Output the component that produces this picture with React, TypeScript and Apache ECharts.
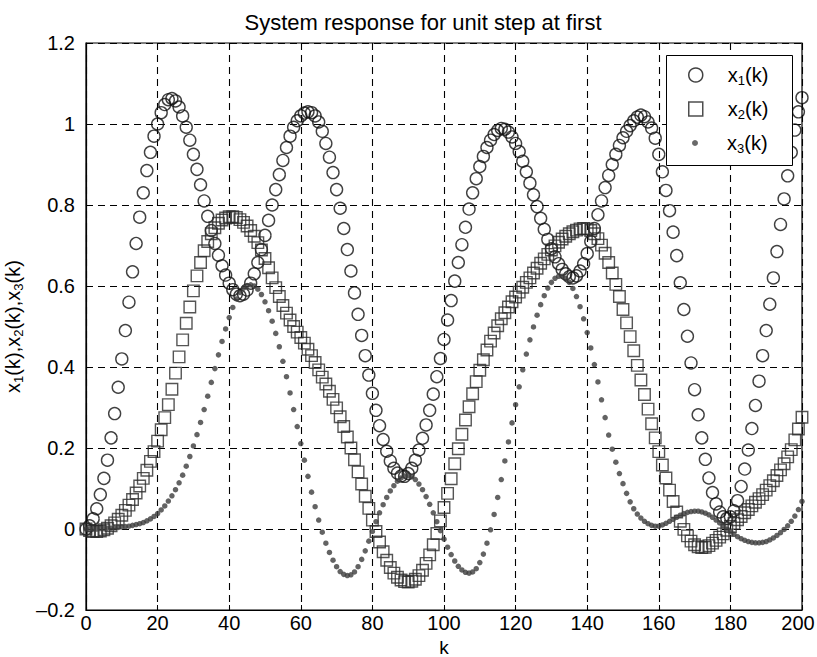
import React, { useEffect, useRef } from "react";
import * as echarts from "echarts";

// Sampled steps k = 0..200 (one marker per step)
const x1: number[] = [
  0.000, 0.008, 0.025, 0.050, 0.085, 0.125, 0.170, 0.225, 0.285, 0.350,
  0.420, 0.490, 0.560, 0.635, 0.705, 0.770, 0.830, 0.885, 0.930, 0.970,
  1.000, 1.028, 1.048, 1.060, 1.063, 1.057, 1.042, 1.020, 0.992, 0.960,
  0.925, 0.888, 0.850, 0.810, 0.772, 0.737, 0.705, 0.676, 0.650, 0.627,
  0.607, 0.591, 0.580, 0.576, 0.580, 0.590, 0.607, 0.630, 0.658, 0.690,
  0.725, 0.762, 0.800, 0.838, 0.875, 0.910, 0.942, 0.970, 0.992, 1.008,
  1.020, 1.027, 1.030, 1.028, 1.020, 1.005, 0.982, 0.952, 0.918, 0.880,
  0.838, 0.792, 0.742, 0.690, 0.637, 0.583, 0.530, 0.478, 0.428, 0.380,
  0.335, 0.293, 0.255, 0.221, 0.192, 0.168, 0.150, 0.138, 0.131, 0.130,
  0.137, 0.150, 0.170, 0.195, 0.224, 0.257, 0.293, 0.333, 0.376, 0.421,
  0.468, 0.516, 0.564, 0.612, 0.658, 0.702, 0.745, 0.790, 0.830, 0.865,
  0.895, 0.920, 0.942, 0.960, 0.974, 0.984, 0.989, 0.987, 0.980, 0.968,
  0.952, 0.932, 0.908, 0.882, 0.854, 0.825, 0.796, 0.767, 0.740, 0.715,
  0.692, 0.672, 0.655, 0.641, 0.630, 0.623, 0.620, 0.625, 0.637, 0.655,
  0.680, 0.710, 0.742, 0.776, 0.810, 0.843, 0.873, 0.900, 0.925, 0.947,
  0.966, 0.982, 0.996, 1.008, 1.017, 1.022, 1.018, 1.005, 0.990, 0.965,
  0.925, 0.882, 0.836, 0.786, 0.733, 0.675, 0.608, 0.542, 0.476, 0.410,
  0.344, 0.282, 0.225, 0.172, 0.126, 0.090, 0.062, 0.042, 0.030, 0.026,
  0.030, 0.045, 0.070, 0.105, 0.148, 0.195, 0.248, 0.305, 0.365, 0.428,
  0.490, 0.555, 0.620, 0.685, 0.752, 0.815, 0.872, 0.930, 0.985, 1.030,
  1.065,
];

const x2: number[] = [
  0.000, -0.004, -0.006, -0.006, -0.005, -0.002, 0.002, 0.008, 0.015, 0.024,
  0.034, 0.046, 0.059, 0.073, 0.089, 0.106, 0.125, 0.145, 0.167, 0.191,
  0.217, 0.245, 0.275, 0.307, 0.345, 0.385, 0.425, 0.467, 0.508, 0.548,
  0.588, 0.625, 0.658, 0.687, 0.710, 0.729, 0.744, 0.755, 0.763, 0.768,
  0.771, 0.771, 0.769, 0.764, 0.757, 0.748, 0.737, 0.723, 0.707, 0.689,
  0.668, 0.645, 0.620, 0.596, 0.574, 0.552, 0.533, 0.516, 0.500, 0.486,
  0.473, 0.459, 0.444, 0.428, 0.411, 0.393, 0.375, 0.358, 0.340, 0.320,
  0.299, 0.277, 0.253, 0.227, 0.200, 0.171, 0.141, 0.111, 0.081, 0.051,
  0.022, -0.006, -0.032, -0.056, -0.077, -0.095, -0.109, -0.119, -0.126, -0.130,
  -0.131, -0.129, -0.124, -0.115, -0.102, -0.085, -0.064, -0.039, -0.011, 0.020,
  0.053, 0.088, 0.124, 0.161, 0.198, 0.234, 0.269, 0.302, 0.334, 0.364,
  0.392, 0.418, 0.442, 0.464, 0.484, 0.502, 0.519, 0.534, 0.548, 0.561,
  0.573, 0.585, 0.597, 0.609, 0.620, 0.632, 0.644, 0.656, 0.667, 0.678,
  0.689, 0.699, 0.708, 0.716, 0.723, 0.729, 0.734, 0.738, 0.741, 0.742,
  0.741, 0.737, 0.729, 0.717, 0.701, 0.681, 0.658, 0.632, 0.604, 0.574,
  0.542, 0.509, 0.475, 0.440, 0.404, 0.368, 0.332, 0.296, 0.260, 0.225,
  0.191, 0.158, 0.126, 0.096, 0.068, 0.042, 0.019, -0.001, -0.017, -0.030,
  -0.039, -0.044, -0.046, -0.045, -0.041, -0.035, -0.028, -0.020, -0.012, -0.003,
  0.006, 0.014, 0.023, 0.031, 0.040, 0.048, 0.057, 0.066, 0.075, 0.085,
  0.096, 0.107, 0.119, 0.132, 0.146, 0.161, 0.178, 0.196, 0.220, 0.247,
  0.276,
];

const x3: number[] = [
  0.000, 0.000, 0.000, 0.000, 0.001, 0.001, 0.002, 0.002, 0.003, 0.004,
  0.005, 0.006, 0.007, 0.009, 0.011, 0.013, 0.016, 0.020, 0.025, 0.031,
  0.038, 0.047, 0.057, 0.069, 0.082, 0.097, 0.114, 0.133, 0.155, 0.179,
  0.205, 0.233, 0.263, 0.295, 0.328, 0.362, 0.396, 0.430, 0.463, 0.494,
  0.522, 0.547, 0.568, 0.584, 0.595, 0.601, 0.603, 0.600, 0.592, 0.579,
  0.561, 0.539, 0.513, 0.483, 0.450, 0.414, 0.376, 0.336, 0.295, 0.253,
  0.211, 0.170, 0.130, 0.091, 0.055, 0.022, -0.008, -0.035, -0.058, -0.077,
  -0.093, -0.105, -0.112, -0.115, -0.113, -0.106, -0.093, -0.075, -0.054, -0.030,
  -0.006, 0.018, 0.040, 0.060, 0.078, 0.094, 0.107, 0.118, 0.126, 0.131,
  0.132, 0.129, 0.122, 0.111, 0.097, 0.080, 0.061, 0.040, 0.018, -0.004,
  -0.025, -0.045, -0.063, -0.079, -0.092, -0.101, -0.107, -0.109, -0.106, -0.098,
  -0.083, -0.062, -0.035, -0.002, 0.036, 0.078, 0.122, 0.168, 0.215, 0.262,
  0.307, 0.351, 0.393, 0.432, 0.467, 0.499, 0.528, 0.554, 0.576, 0.595,
  0.609, 0.619, 0.624, 0.624, 0.619, 0.609, 0.594, 0.574, 0.549, 0.519,
  0.485, 0.447, 0.406, 0.363, 0.319, 0.275, 0.232, 0.197, 0.165, 0.137,
  0.112, 0.088, 0.067, 0.050, 0.037, 0.027, 0.019, 0.013, 0.009, 0.007,
  0.007, 0.010, 0.014, 0.019, 0.024, 0.029, 0.034, 0.038, 0.041, 0.043,
  0.044, 0.044, 0.042, 0.039, 0.035, 0.029, 0.022, 0.015, 0.008, 0.000,
  -0.007, -0.013, -0.019, -0.024, -0.028, -0.031, -0.033, -0.034, -0.034, -0.033,
  -0.031, -0.027, -0.022, -0.016, -0.009, -0.001, 0.008, 0.019, 0.032, 0.048,
  0.068,
];

const seriesNames = ["x1(k)", "x2(k)", "x3(k)"];
const subDigits = ["1", "2", "3"];
const xTicks = { min: 0, max: 200, interval: 20 };
const yTicks = { min: -0.2, max: 1.2, interval: 0.2 };
const titleText = "System response for unit step at first";
const xName = "k";

const FONT = "Liberation Sans, Arial, Helvetica, sans-serif";

export default function App() {
  const ref = useRef<HTMLDivElement>(null);

  useEffect(() => {
    if (!ref.current) return;
    const chart = echarts.init(ref.current, undefined, { renderer: "svg" });

    const toPairs = (arr: number[]) => arr.map((v, k) => [k, v]);
    const sub = (d: string) => `x{s|${d}}(k)`;
    const fmt = (name: string) => sub(subDigits[seriesNames.indexOf(name)]);

    const dash = { type: [7, 5] as number[], color: "#000", width: 1.1 };
    const richSub = {
      s: { fontFamily: FONT, fontSize: 13, lineHeight: 14, verticalAlign: "bottom", color: "#000" },
    };
    const legendText = (padLeft: number) => ({
      fontFamily: FONT,
      fontSize: 20,
      color: "#000",
      lineHeight: 24,
      padding: [0, 0, 0, padLeft],
      rich: richSub,
    });

    chart.setOption({
      animation: false,
      backgroundColor: "#ffffff",
      title: {
        text: titleText,
        left: 418,
        textAlign: "center",
        top: 6,
        textStyle: {
          fontFamily: FONT,
          fontSize: 22,
          fontWeight: "normal",
          color: "#000",
        },
      },
      grid: {
        left: 86,
        right: 15,
        top: 43,
        bottom: 47,
        show: true,
        borderColor: "#000",
        borderWidth: 1.2,
        backgroundColor: "transparent",
        containLabel: false,
        outerBoundsMode: "none",
      },
      graphic: [
        {
          type: "rect",
          left: 666,
          top: 55,
          z: 50,
          shape: { width: 126, height: 110 },
          style: { fill: "#fff", stroke: "#000", lineWidth: 1 },
        },
      ],
      legend: [
        {
          orient: "vertical",
          left: 688,
          top: 63,
          z: 60,
          padding: 0,
          itemGap: 10,
          itemWidth: 14,
          itemHeight: 14,
          data: [
            {
              name: seriesNames[0],
              icon: "circle",
              itemStyle: { color: "transparent", borderColor: "#111", borderWidth: 1.5 },
            },
            {
              name: seriesNames[1],
              icon: "rect",
              itemStyle: { color: "transparent", borderColor: "#222", borderWidth: 1.5 },
            },
          ],
          formatter: fmt,
          textStyle: legendText(20),
        },
        {
          orient: "vertical",
          left: 692,
          top: 131,
          z: 60,
          padding: 0,
          itemWidth: 6,
          itemHeight: 6,
          data: [
            {
              name: seriesNames[2],
              icon: "circle",
              itemStyle: { color: "#444", borderWidth: 0 },
            },
          ],
          formatter: fmt,
          textStyle: legendText(24),
        },
      ],
      xAxis: {
        type: "value",
        min: xTicks.min,
        max: xTicks.max,
        interval: xTicks.interval,
        name: xName,
        nameLocation: "middle",
        nameGap: 24,
        nameTextStyle: { fontFamily: FONT, fontSize: 19, color: "#000" },
        axisLine: { show: true, onZero: false, lineStyle: { color: "#000", width: 1.2 } },
        axisTick: { show: true, inside: true, length: 5, lineStyle: { color: "#000" } },
        axisLabel: {
          fontFamily: FONT,
          fontSize: 20,
          color: "#000",
          margin: 3,
          formatter: (v: number) => (v === xTicks.max ? `{m|${v}}` : String(v)),
          rich: { m: { fontFamily: FONT, fontSize: 20, color: "#000", padding: [0, 8, 0, 0] } },
        },
        splitLine: { show: true, lineStyle: dash },
      },
      yAxis: {
        type: "value",
        min: yTicks.min,
        max: yTicks.max,
        interval: yTicks.interval,
        name: "x{s|1}(k),x{s|2}(k),x{s|3}(k)",
        nameLocation: "middle",
        nameRotate: 90,
        nameGap: 42,
        nameTextStyle: {
          fontFamily: FONT,
          fontSize: 20,
          color: "#000",
          lineHeight: 24,
          rich: richSub,
        },
        axisLine: { show: true, onZero: false, lineStyle: { color: "#000", width: 1.2 } },
        axisTick: { show: true, inside: true, length: 5, lineStyle: { color: "#000" } },
        axisLabel: {
          fontFamily: FONT,
          fontSize: 20,
          color: "#000",
          margin: 11,
          formatter: (v: number) => {
            const r = Math.round(v * 10) / 10;
            return r < 0 ? "\u2013" + String(Math.abs(r)) : String(r);
          },
        },
        splitLine: { show: true, lineStyle: dash },
      },
      series: [
        {
          name: seriesNames[0],
          type: "scatter",
          symbol: "circle",
          symbolSize: 12,
          data: toPairs(x1),
          itemStyle: { color: "transparent", borderColor: "#111", borderWidth: 1.4 },
        },
        {
          name: seriesNames[1],
          type: "scatter",
          symbol: "rect",
          symbolSize: 11.5,
          data: toPairs(x2),
          itemStyle: { color: "transparent", borderColor: "#2a2a2a", borderWidth: 1.4 },
        },
        {
          name: seriesNames[2],
          type: "scatter",
          symbol: "circle",
          symbolSize: 5.5,
          data: toPairs(x3),
          itemStyle: { color: "#3c3c3c", borderWidth: 0 },
        },
      ],
    });

    return () => chart.dispose();
  }, []);

  return (
    <div
      ref={ref}
      style={{ position: "fixed", left: 0, top: 0, width: 817, height: 657, background: "#fff" }}
    />
  );
}
